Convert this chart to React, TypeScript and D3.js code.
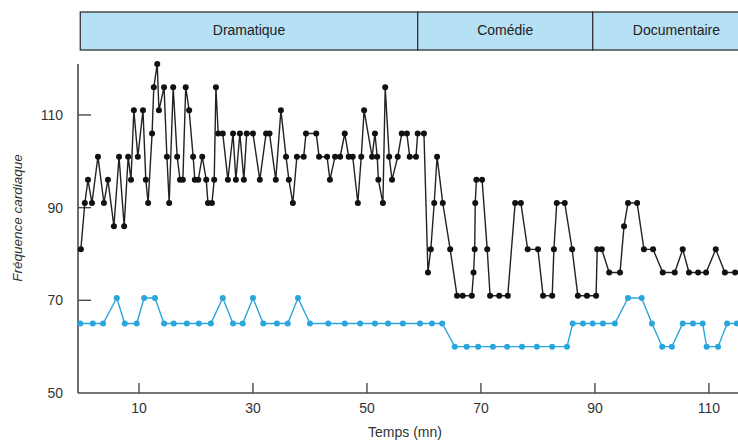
import React from "react";
import * as d3 from "d3";

const blackT = [-0.2,0.5,1.05,1.75,2.8,3.85,4.55,5.6,6.5,7.4,8.1,8.6,9.1,9.8,10.7,11.2,11.6,12.3,12.6,13.2,13.5,14.4,14.9,15.3,16.0,16.7,17.2,17.7,18.2,18.8,19.5,19.8,20.4,21.1,21.8,22.1,22.8,23.2,23.5,23.9,24.7,25.6,26.5,27.0,27.7,28.4,28.9,30.0,31.2,32.3,32.9,34.0,34.9,35.8,36.3,37.0,37.7,38.9,39.3,41.1,41.6,43.0,43.5,44.4,45.3,46.1,46.8,47.5,48.4,49.0,49.5,50.9,51.4,51.8,52.0,52.8,53.2,53.9,54.4,55.4,56.1,57.0,57.5,58.6,58.9,60.0,60.7,61.2,61.8,62.3,63.3,64.6,65.8,66.8,68.4,68.7,68.9,69.0,69.2,70.2,71.1,71.6,73.2,74.7,76.0,77.0,78.2,80.0,80.9,82.5,82.8,83.3,84.7,86.0,87.0,88.6,90.2,90.4,91.2,92.5,94.4,95.1,95.8,97.4,98.6,100.2,101.9,104.0,105.4,106.5,108.1,109.5,111.2,112.8,114.6];
const blackV = [81,91,96,91,101,91,96,86,101,86,101,96,111,101,111,96,91,106,116,121,111,116,101,91,116,101,96,96,116,111,101,96,96,101,96,91,91,96,116,106,106,96,106,96,106,96,106,106,96,106,106,96,111,101,96,91,101,101,106,106,101,101,96,101,101,106,101,101,91,101,111,101,106,101,96,91,116,101,96,101,106,106,101,101,106,106,76,81,91,101,91,81,71,71,71,76,81,91,96,96,81,71,71,71,91,91,81,81,71,71,81,91,91,81,71,71,71,81,81,76,76,86,91,91,81,81,76,76,81,76,76,76,81,76,76];

const blueT = [-0.3,1.9,3.7,6.1,7.5,9.6,10.9,12.8,14.4,16.1,18.4,20.5,22.6,24.7,26.5,28.2,30.0,31.8,34.2,36.1,37.9,40.0,43.2,46.1,48.8,51.4,53.7,56.3,59.3,61.4,63.2,65.4,67.5,69.5,72.1,74.6,77.2,79.8,82.5,85.1,86.1,87.9,89.6,91.4,93.5,95.8,98.2,100.0,101.8,103.5,105.4,107.2,108.9,109.6,111.6,113.2,114.9];
const blueV = [65,65,65,70.5,65,65,70.5,70.5,65,65,65,65,65,70.5,65,65,70.5,65,65,65,70.5,65,65,65,65,65,65,65,65,65,65,60,60,60,60,60,60,60,60,60,65,65,65,65,65,70.5,70.5,65,60,60,65,65,65,60,60,65,65];

const xTicks = [10, 30, 50, 70, 90, 110];
const yTicks = [50, 70, 90, 110];
const sections = ["Dramatique", "Comédie", "Documentaire"];
const sectionBounds = [-0.3, 58.9, 89.6, 119];

export default function App() {
  const W = 738, H = 442;
  const x = d3.scaleLinear().domain([-0.7, 115.1]).range([78, 738]);
  const y = d3.scaleLinear().domain([50, 121]).range([393, 64]);
  const font = "'Liberation Sans', Arial, Helvetica, sans-serif";
  const blackData = blackT.map((t, i) => [t, blackV[i]] as [number, number]);
  const blueData = blueT.map((t, i) => [t, blueV[i]] as [number, number]);
  const line = d3.line<[number, number]>().x(d => x(d[0])).y(d => y(d[1]));
  const axisColor = "#4a4a4a";
  const blue = "#2aa6dc";
  return (
    <svg width={W} height={H} style={{ position: "absolute", left: 0, top: 0, background: "#fff" }} fontFamily={font}>
      {sections.map((s, i) => {
        const x0 = x(sectionBounds[i]);
        const x1 = x(sectionBounds[i + 1]);
        return (
          <g key={s}>
            <rect x={x0} y={12} width={x1 - x0} height={38} fill="#b6e0f4" stroke="#333" strokeWidth={1.3} />
            <text x={(x0 + x1) / 2} y={35} textAnchor="middle" fontSize={14} fill="#222">{s}</text>
          </g>
        );
      })}
      <line x1={78} x2={78} y1={y(121)} y2={y(50)} stroke={axisColor} strokeWidth={1.6} />
      <line x1={78} x2={738} y1={y(50)} y2={y(50)} stroke={axisColor} strokeWidth={1.6} />
      {yTicks.map(v => (
        <g key={v}>
          {v !== 50 && <line x1={78} x2={91} y1={y(v)} y2={y(v)} stroke={axisColor} strokeWidth={1.4} />}
          <text x={63} y={y(v) + 5} textAnchor="end" fontSize={14} fill="#333">{v}</text>
        </g>
      ))}
      {xTicks.map(v => (
        <g key={v}>
          <line x1={x(v)} x2={x(v)} y1={y(50)} y2={y(50) - 10} stroke={axisColor} strokeWidth={1.4} />
          <text x={x(v)} y={413} textAnchor="middle" fontSize={14} fill="#333">{v}</text>
        </g>
      ))}
      <text x={405} y={437} textAnchor="middle" fontSize={14} fill="#333">Temps (mn)</text>
      <text transform={`translate(22,218) rotate(-90)`} textAnchor="middle" fontSize={13.5} fontStyle="italic" fill="#333">Fréquence cardiaque</text>
      <path d={line(blueData) || ""} fill="none" stroke={blue} strokeWidth={1.4} />
      {blueData.map((d, i) => (
        <circle key={"b" + i} cx={x(d[0])} cy={y(d[1])} r={3} fill={blue} />
      ))}
      <path d={line(blackData) || ""} fill="none" stroke="#222" strokeWidth={1.4} />
      {blackData.map((d, i) => (
        <circle key={"k" + i} cx={x(d[0])} cy={y(d[1])} r={3} fill="#111" />
      ))}
    </svg>
  );
}
